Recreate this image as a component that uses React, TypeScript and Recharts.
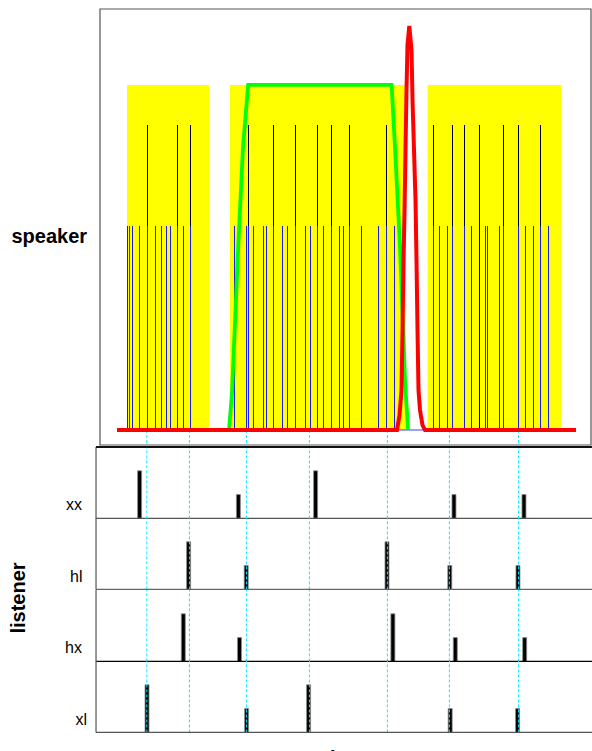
import React from 'react';
import {
  ComposedChart,
  BarChart,
  Bar,
  Line,
  XAxis,
  YAxis,
  ReferenceArea,
  ReferenceLine,
} from 'recharts';

// ---------- data (time in ms, amplitude in arbitrary units) ----------
const syllableStart = [135, 650, 1638];
const syllableEnd = [545, 1530, 2308];
const syllableLevel = 100;

const beatTimes = [238, 389, 452, 742, 867, 975, 1089, 1157, 1247, 1434, 1669, 1764, 1820, 1895, 2015, 2090, 2204];
const beatLevel = 88.4;

const onsetTimes = [
  137, 149, 160, 195, 238, 275, 307, 332, 350, 389, 415, 452,
  674, 733, 742, 767, 819, 834, 867, 912, 937, 975, 1025, 1050, 1089, 1119, 1157, 1195, 1217, 1247, 1309, 1390, 1434, 1474,
  1669, 1699, 1737, 1764, 1820, 1857, 1927, 1939, 1995, 2015, 2090, 2129, 2165, 2204, 2242,
];
const onsetLevel = 59.1;
const onsetSpan = [137, 2242];

const focusT = [645, 660, 691, 715, 741, 1458, 1475, 1500, 1525, 1540];
const focusV = [0, 10.7, 53, 82, 100, 100, 82, 53, 14.5, 0];

const pitchT = [85, 1485, 1497.5, 1507.5, 1512.5, 1517.5, 1522.5, 1527.5, 1532.5, 1537.5, 1546.5, 1557.5, 1562.5, 1570, 1577.5, 1582.5, 1587.5, 1592.5, 1600, 1612.5, 1625, 2380];
const pitchV = [0, 0, 4.3, 11.6, 29, 49.3, 62.9, 81.2, 98.6, 111.6, 117.1, 110.1, 95.7, 81.2, 66.7, 49.3, 29, 11.6, 5.8, 1.4, 0, 0];

const eventTimes = [234, 447, 732, 1047, 1437, 1747, 2093];

const listenerNames = ['xx', 'hl', 'hx', 'xl'];
const listenerTimes = [
  [198, 692, 1078, 1770, 2120],
  [442, 730, 1434, 1748, 2089],
  [417, 698, 1465, 1777, 2124],
  [235, 733, 1043, 1751, 2088],
];
const listenerHeights = [
  [2, 1, 2, 1, 1],
  [2, 1, 2, 1, 1],
  [2, 1, 2, 1, 1],
  [2, 1, 2, 1, 1],
];

const speakerLabel = 'speaker';
const listenerLabel = 'listener';
const timeLabel = 'time';

// ---------- layout ----------
const FONT = '"Liberation Sans", Arial, Helvetica, sans-serif';
const W = 592;
const T_DOMAIN: [number, number] = [0, 2455];
const BOTTOM_T_DOMAIN: [number, number] = [-20, 2460];
const AMP_DOMAIN: [number, number] = [-4.35, 122];
const ROW_DOMAIN: [number, number] = [0, 3];
const ROW_TOP0 = 447;
const ROW_H = 71.43;
const rowLineColors = ['#555', '#666', '#000', '#555'];
const rowLabelX = [82, 82.5, 82, 87];
const CYAN = '#00eeff';

function SpeakerPanel() {
  const focusData = focusT.map((t, i) => ({ t, v: focusV[i] }));
  const pitchData = pitchT.map((t, i) => ({ t, v: pitchV[i] }));
  return (
    <div style={{ position: 'absolute', left: 0, top: 0, width: W, height: 451 }}>
      <ComposedChart width={W} height={451} margin={{ top: 9, right: 1, bottom: 6, left: 100 }}>
        <XAxis type="number" dataKey="t" domain={T_DOMAIN} hide allowDataOverflow />
        <YAxis type="number" domain={AMP_DOMAIN} hide allowDataOverflow />
        {syllableStart.map((s, i) => (
          <ReferenceArea
            key={'syl' + i}
            x1={s}
            x2={syllableEnd[i]}
            y1={0}
            y2={syllableLevel}
            fill="#ffff00"
            fillOpacity={1}
            stroke="none"
          />
        ))}
        {beatTimes.map((t) => (
          <ReferenceLine
            key={'beat' + t}
            segment={[{ x: t, y: 0 }, { x: t, y: beatLevel }]}
            stroke="#000"
            strokeWidth={1}
            shapeRendering="crispEdges"
          />
        ))}
        {onsetTimes.map((t, i) => (
          <ReferenceLine
            key={'on' + i}
            segment={[{ x: t, y: 0 }, { x: t, y: onsetLevel }]}
            stroke="#1a1aff"
            strokeWidth={1}
            shapeRendering="crispEdges"
          />
        ))}
        <ReferenceLine
          segment={[{ x: onsetSpan[0], y: 0 }, { x: onsetSpan[1], y: 0 }]}
          stroke="#3a3aff"
          strokeWidth={1}
        />
        {eventTimes.map((t) => (
          <ReferenceLine
            key={'ev' + t}
            segment={[{ x: t, y: 0 }, { x: t, y: AMP_DOMAIN[0] }]}
            stroke={CYAN}
            strokeWidth={1}
            strokeDasharray="3 2"
          />
        ))}
        <Line
          data={focusData}
          dataKey="v"
          type="linear"
          stroke="#00ff00"
          strokeWidth={3.8}
          dot={false}
          activeDot={false}
          isAnimationActive={false}
        />
        <Line
          data={pitchData}
          dataKey="v"
          type="linear"
          stroke="#ff0000"
          strokeWidth={4}
          dot={false}
          activeDot={false}
          isAnimationActive={false}
        />
        <ReferenceArea
          x1={T_DOMAIN[0]}
          x2={T_DOMAIN[1]}
          y1={AMP_DOMAIN[0]}
          y2={AMP_DOMAIN[1]}
          fill="none"
          fillOpacity={0}
          stroke="#555"
          strokeWidth={1.2}
        />
      </ComposedChart>
    </div>
  );
}

function ListenerRow({ idx }: { idx: number }) {
  const data = listenerTimes[idx].map((t, i) => ({ t, h: listenerHeights[idx][i] }));
  const top = ROW_TOP0 + idx * ROW_H;
  return (
    <div style={{ position: 'absolute', left: 0, top: top - 2, width: W, height: ROW_H + 4 }}>
      <BarChart width={W} height={ROW_H + 4} data={data} margin={{ top: 2, right: 0, bottom: 2, left: 96 }}>
        <XAxis type="number" dataKey="t" domain={BOTTOM_T_DOMAIN} hide allowDataOverflow />
        <YAxis type="number" domain={ROW_DOMAIN} hide allowDataOverflow />
        <Bar
          dataKey="h"
          barSize={4}
          fill="#000"
          stroke="#8a8a8a"
          strokeWidth={0.8}
          isAnimationActive={false}
        />
        {eventTimes.map((t) => (
          <ReferenceLine key={'ev' + t} x={t} stroke={CYAN} strokeWidth={1} strokeDasharray="3 2" />
        ))}
        <ReferenceLine y={ROW_DOMAIN[0]} stroke={rowLineColors[idx]} strokeWidth={1.2} />
        <ReferenceLine x={BOTTOM_T_DOMAIN[0]} stroke="#555" strokeWidth={1.2} />
        {idx === 0 && <ReferenceLine y={ROW_DOMAIN[1]} stroke="#111" strokeWidth={1.8} />}
      </BarChart>
    </div>
  );
}

function Labels() {
  return (
    <svg
      width={W}
      height={751}
      style={{ position: 'absolute', left: 0, top: 0, pointerEvents: 'none', fontFamily: FONT }}
    >
      <text x={11.5} y={243} fontSize={20} fontWeight="bold" fill="#000">
        {speakerLabel}
      </text>
      <text
        transform="translate(24.6,598) rotate(-90)"
        textAnchor="middle"
        fontSize={20}
        fontWeight="bold"
        fill="#000"
      >
        {listenerLabel}
      </text>
      {listenerNames.map((n, i) => (
        <text
          key={n}
          x={rowLabelX[i]}
          y={ROW_TOP0 + (i + 1) * ROW_H - 8}
          textAnchor="end"
          fontSize={16}
          fill="#000"
        >
          {n}
        </text>
      ))}
      <text x={344} y={764.5} textAnchor="middle" fontSize={20} fontWeight="bold" fill="#000">
        {timeLabel}
      </text>
    </svg>
  );
}

export default function App() {
  return (
    <div style={{ position: 'absolute', left: 0, top: 0, width: W, height: 751, background: '#fff', overflow: 'hidden' }}>
      <SpeakerPanel />
      {listenerNames.map((n, i) => (
        <ListenerRow key={n} idx={i} />
      ))}
      <Labels />
    </div>
  );
}
